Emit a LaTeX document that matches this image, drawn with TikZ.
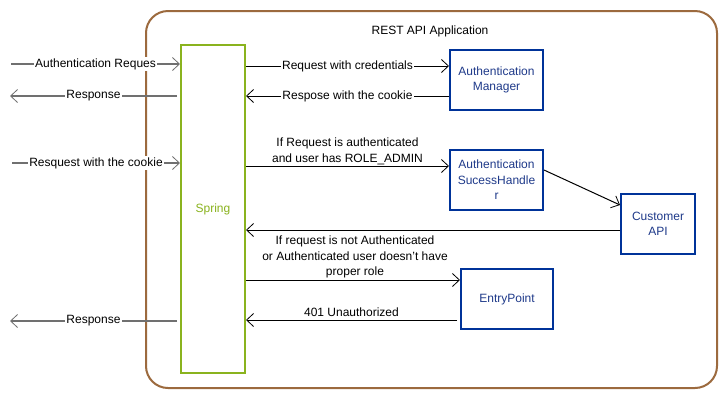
\documentclass[tikz,border=0pt]{standalone}
\usepackage{fontspec}
\setmainfont{Liberation Sans}
\usetikzlibrary{arrows.meta,calc}
\definecolor{cbrown}{HTML}{9C6A3E}
\definecolor{cgreen}{HTML}{8AB31E}
\definecolor{cblue}{HTML}{003399}
\definecolor{cbluetxt}{HTML}{1F3A8A}
\definecolor{cgray}{HTML}{707070}
\tikzset{
  x=1pt, y=-1pt,
  every node/.style={font=\fontsize{12}{15.5}\selectfont},
  bluebox/.style={draw=cblue, line width=2pt, fill=white, text=cbluetxt, align=center, inner sep=1pt},
  tip/.style={-{Straight Barb[length=7pt,width=13pt,line width=0.8pt]}},
  rarrow/.style={tip, draw=black, line width=1pt},
  larrow/.style={tip, draw=cgray, line width=1.2pt},
  lbl/.style={fill=white, inner sep=1pt, text=black},
  txt/.style={inner sep=0pt, align=center, text=black}
}
\begin{document}
\begin{tikzpicture}
\useasboundingbox (0,0) rectangle (725,400);
\fill[white] (0,0) rectangle (725,400);
% container
\draw[cbrown, line width=2pt, rounded corners=22pt] (146,11) rectangle (717,388);
\node[txt] (title) at (430,31) {REST API Application};
% spring
\node[draw=cgreen, line width=2pt, fill=white, minimum width=64pt, minimum height=328pt, inner sep=0pt, text=cgreen] (spring) at (213,209) {Spring};
% boxes
\node[bluebox, minimum width=93pt, minimum height=60pt] (am) at (496.5,80) {Authentication\\Manager};
\node[bluebox, minimum width=93pt, minimum height=60pt] (sh) at (496.5,180) {Authentication\\SucessHandle\\r};
\node[bluebox, minimum width=74pt, minimum height=60pt] (cust) at (658,224) {Customer\\API};
\node[bluebox, minimum width=92pt, minimum height=60pt] (ep) at (507,299) {EntryPoint};
% left side
\coordinate (l1) at (11,64);
\coordinate (l2) at (10,96);
\coordinate (l3) at (12,163);
\coordinate (l4) at (10,321);
\draw[larrow] (l1) -- (l1 -| spring.west) node[midway, lbl] {Authentication Reques};
\draw[larrow] ($(l2 -| spring.west)+(-3,0)$) -- (l2) node[midway, lbl] {Response};
\draw[larrow] (l3) -- (l3 -| spring.west) node[midway, lbl] {Resquest with the cookie};
\draw[larrow] ($(l4 -| spring.west)+(-3,0)$) -- (l4) node[midway, lbl] {Response};
% right side
\draw[rarrow] (spring.east |- {(0,66)}) -- (am.west |- {(0,66)}) node[midway, lbl] {Request with credentials};
\draw[rarrow] (am.west |- {(0,96)}) -- (spring.east |- {(0,96)}) node[midway, lbl] {Respose with the cookie};
\draw[rarrow] (spring.east |- {(0,166)}) -- (sh.west |- {(0,166)}) node[midway, above=1pt, txt] {If Request is authenticated\\and user has ROLE\_ADMIN};
\draw[rarrow] (sh.east |- {(0,170)}) -- (cust.west |- {(0,205)});
\draw[rarrow] (cust.west |- {(0,230)}) -- (spring.east |- {(0,230)});
\node[txt] (nolbl) at (355,257) {If request is not Authenticated\\or Authenticated user doesn{\char"27}t have\\proper role};
\draw[rarrow] (spring.east |- {(0,280)}) -- (ep.west |- {(0,280)});
\draw[rarrow] ($(ep.west |- {(0,320)})+(-3,0)$) -- (spring.east |- {(0,320)}) node[midway, above=3pt, txt] {401 Unauthorized};
\end{tikzpicture}
\end{document}
